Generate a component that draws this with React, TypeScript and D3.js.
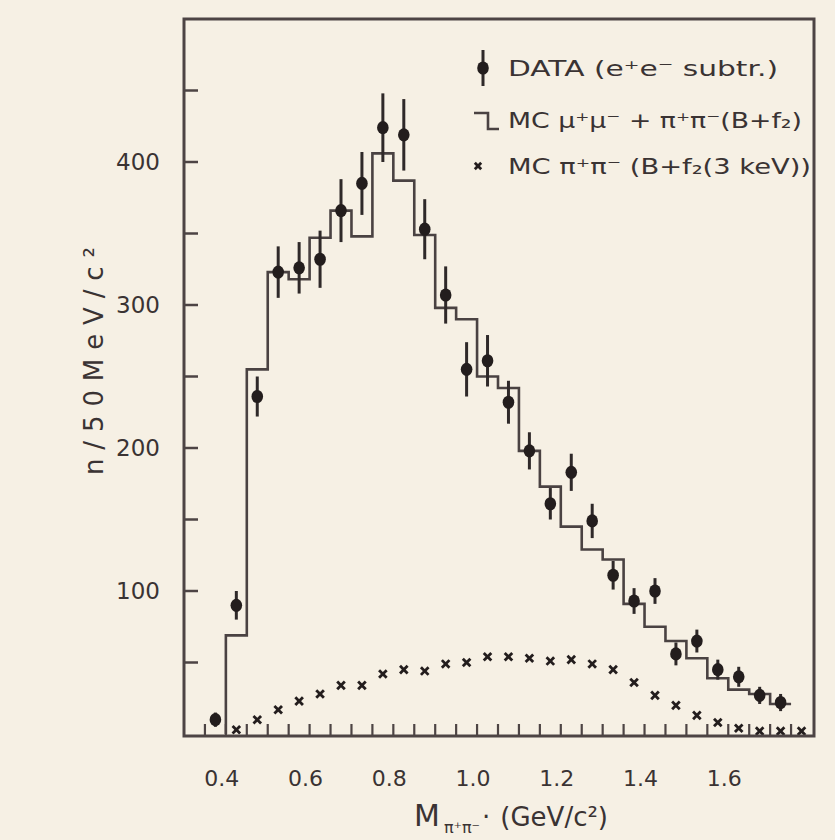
import React from 'react';
import * as d3 from 'd3';

// DATA (e+e- subtracted): bin centres, counts, error half-lengths
const dataMass = [0.375, 0.425, 0.475, 0.525, 0.575, 0.625, 0.675, 0.725, 0.775, 0.825, 0.875, 0.925, 0.975, 1.025, 1.075, 1.125, 1.175, 1.225, 1.275, 1.325, 1.375, 1.425, 1.475, 1.525, 1.575, 1.625, 1.675, 1.725];
const dataCounts = [10, 90, 236, 323, 326, 332, 366, 385, 424, 419, 353, 307, 255, 261, 232, 198, 161, 183, 149, 111, 93, 100, 56, 65, 45, 40, 27, 22];
const dataErrors = [5, 10, 14, 18, 18, 20, 22, 22, 24, 25, 21, 20, 19, 18, 15, 13, 11, 13, 12, 10, 9, 9, 8, 8, 7, 7, 6, 6];

// MC mu+mu- + pi+pi-(B+f2) histogram: bin low edges and contents
const mcLowEdges = [0.40, 0.45, 0.50, 0.55, 0.60, 0.65, 0.70, 0.75, 0.80, 0.85, 0.90, 0.95, 1.00, 1.05, 1.10, 1.15, 1.20, 1.25, 1.30, 1.35, 1.40, 1.45, 1.50, 1.55, 1.60, 1.65, 1.70];
const mcCounts = [69, 255, 323, 318, 347, 366, 348, 406, 387, 349, 298, 290, 250, 242, 198, 173, 145, 129, 122, 91, 75, 65, 53, 39, 31, 28, 21];
const mcBinWidth = 0.05;

// MC pi+pi- (B+f2 (3 keV)) crosses
const crossMass = [0.425, 0.475, 0.525, 0.575, 0.625, 0.675, 0.725, 0.775, 0.825, 0.875, 0.925, 0.975, 1.025, 1.075, 1.125, 1.175, 1.225, 1.275, 1.325, 1.375, 1.425, 1.475, 1.525, 1.575, 1.625, 1.675, 1.725, 1.775];
const crossCounts = [3, 10, 17, 23, 28, 34, 34, 42, 45, 44, 49, 50, 54, 54, 53, 51, 52, 49, 45, 36, 27, 20, 13, 8, 4, 2, 2, 2];

const yTickValues = [50, 100, 150, 200, 250, 300, 350, 400, 450];
const yTickLabels = [100, 200, 300, 400];
const xTickValues = [0.35, 0.40, 0.45, 0.50, 0.55, 0.60, 0.65, 0.70, 0.75, 0.80, 0.85, 0.90, 0.95, 1.00, 1.05, 1.10, 1.15, 1.20, 1.25, 1.30, 1.35, 1.40, 1.45, 1.50, 1.55, 1.60, 1.65, 1.70, 1.75];
const xTickLabels = [0.4, 0.6, 0.8, 1.0, 1.2, 1.4, 1.6];

const legendLabels = [
  'DATA (e⁺e⁻  subtr.)',
  'MC  μ⁺μ⁻ + π⁺π⁻(B+f₂)',
  'MC  π⁺π⁻ (B+f₂(3 keV))',
];

const BG = '#f6f0e4';
const INK = '#3a3333';
const DARK = '#231d1d';
const FONT = '"DejaVu Sans", "Noto Sans", sans-serif';

export default function App() {
  const W = 835;
  const H = 840;
  const frame = { left: 184, right: 814, top: 19, bottom: 736 };
  const x = d3.scaleLinear().domain([0.3, 1.8]).range([184, 812]);
  const y = d3.scaleLinear().domain([0, 500]).range([734, 19]);

  const stepPts: [number, number][] = [[mcLowEdges[0], 0]];
  mcLowEdges.forEach((e, i) => stepPts.push([e, mcCounts[i]]));
  stepPts.push([mcLowEdges[mcLowEdges.length - 1] + mcBinWidth, mcCounts[mcCounts.length - 1]]);
  const stepLine = d3
    .line<[number, number]>()
    .x((d) => x(d[0]))
    .y((d) => y(d[1]))
    .curve(d3.curveStepAfter);

  const cross = (cx: number, cy: number, s: number, key: string) => (
    <g key={key} stroke={DARK} strokeWidth={2.8}>
      <line x1={cx - s} y1={cy - s} x2={cx + s} y2={cy + s} />
      <line x1={cx - s} y1={cy + s} x2={cx + s} y2={cy - s} />
    </g>
  );

  return (
    <svg
      width={W}
      height={H}
      style={{ position: 'absolute', left: 0, top: 0, background: BG }}
      fontFamily={FONT}
    >
      <rect x={0} y={0} width={W} height={H} fill={BG} />

      {/* MC histogram */}
      <path d={stepLine(stepPts) || ''} fill="none" stroke="#4a4242" strokeWidth={2.6} />

      {/* MC crosses */}
      {crossMass.map((m, i) => cross(x(m), y(crossCounts[i]), 3.8, 'c' + i))}

      {/* Data with error bars */}
      {dataMass.map((m, i) => (
        <g key={'d' + i}>
          <line
            x1={x(m)}
            x2={x(m)}
            y1={y(dataCounts[i] + dataErrors[i])}
            y2={Math.min(y(dataCounts[i] - dataErrors[i]), 734)}
            stroke="#2f2929"
            strokeWidth={3}
          />
          <ellipse cx={x(m)} cy={y(dataCounts[i])} rx={5.8} ry={6.6} fill={DARK} />
        </g>
      ))}

      {/* frame */}
      <rect
        x={frame.left}
        y={frame.top}
        width={frame.right - frame.left}
        height={frame.bottom - frame.top}
        fill="none"
        stroke="#4d4444"
        strokeWidth={3}
      />

      {/* y ticks */}
      {yTickValues.map((v) => (
        <line key={'yt' + v} x1={frame.left} x2={frame.left + 14} y1={y(v)} y2={y(v)} stroke="#4d4444" strokeWidth={2.5} />
      ))}
      {yTickLabels.map((v) => (
        <text key={'yl' + v} x={160} y={y(v)} dy="0.36em" textAnchor="end" fontSize={23} fill={INK}>
          {v}
        </text>
      ))}

      {/* x ticks */}
      {xTickValues.map((v) => (
        <line key={'xt' + v} x1={x(v)} x2={x(v)} y1={frame.bottom} y2={frame.bottom - 12} stroke="#4d4444" strokeWidth={2.2} />
      ))}
      {xTickLabels.map((v) => (
        <text key={'xl' + v} x={x(v) - 4} y={786} textAnchor="middle" fontSize={22} fill={INK}>
          {d3.format('.1f')(v)}
        </text>
      ))}

      {/* axis titles */}
      <text
        transform="translate(103,361) rotate(-90)"
        textAnchor="middle"
        fontSize={26}
        fill={INK}
        textLength={228}
        lengthAdjust="spacing"
      >
        n/50MeV/c²
      </text>
      <text x={414} y={826} fontSize={30} fill={INK}>
        M
        <tspan fontSize={16} dy={7} dx={4}>π⁺π⁻</tspan>
        <tspan fontSize={26} dy={-7} dx={2}>·</tspan>
        <tspan fontSize={26} dx={10}>(GeV/c²)</tspan>
      </text>

      {/* legend */}
      <line x1={483} x2={483} y1={50} y2={86} stroke="#2f2929" strokeWidth={3} />
      <ellipse cx={483} cy={68} rx={5.8} ry={6.6} fill={DARK} />
      <text x={508} y={76} fontSize={22} fill={INK} textLength={270} lengthAdjust="spacingAndGlyphs">
        {legendLabels[0]}
      </text>

      <path d="M474,113 L488,113 L488,129 L499,129" fill="none" stroke="#4a4242" strokeWidth={2.6} />
      <text x={508} y={128} fontSize={22} fill={INK} textLength={294} lengthAdjust="spacingAndGlyphs">
        {legendLabels[1]}
      </text>

      {cross(478, 166, 3.2, 'legc')}
      <text x={508} y={174} fontSize={22} fill={INK} textLength={303} lengthAdjust="spacingAndGlyphs">
        {legendLabels[2]}
      </text>
    </svg>
  );
}
